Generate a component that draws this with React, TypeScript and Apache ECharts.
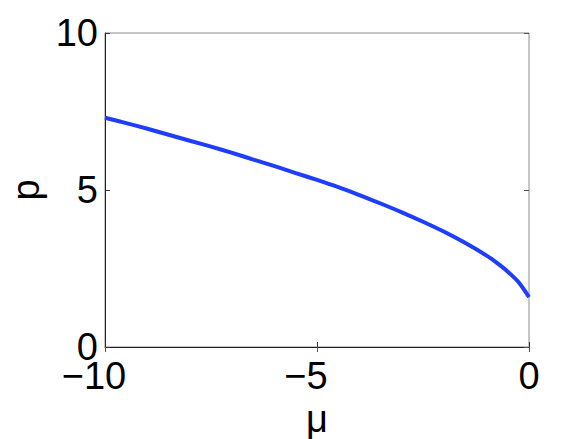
import React, { useEffect, useRef } from "react";
import * as echarts from "echarts";

const mu = [
  -10, -9.5, -9, -8.5, -8, -7.5, -7, -6.5, -6, -5.5, -5, -4.5, -4, -3.5, -3, -2.5, -2, -1.5, -1,
  -0.75, -0.5, -0.25, 0,
];
const p = [
  7.3, 7.13, 6.95, 6.76, 6.57, 6.38, 6.18, 5.97, 5.76, 5.54, 5.32, 5.09, 4.84, 4.57, 4.29, 3.99,
  3.67, 3.31, 2.91, 2.67, 2.4, 2.07, 1.59,
];
const xRange = [-10, 0];
const yRange = [0, 10];
const tickStep = 5;
const xName = "μ";
const yName = "p";

const FONT = "'Liberation Sans', Arial, Helvetica, sans-serif";
const FS = 38;

export default function App() {
  const ref = useRef<HTMLDivElement>(null);
  useEffect(() => {
    if (!ref.current) return;
    const chart = echarts.init(ref.current, null, { renderer: "svg" });
    const txt = { fontFamily: FONT, fontSize: FS, color: "#000" };
    chart.setOption({
      animation: false,
      grid: {
        left: 105,
        top: 33,
        right: 55,
        bottom: 92,
        show: true,
        borderColor: "#8a8a8a",
        borderWidth: 1,
        outerBoundsMode: "none",
      },
      xAxis: [
        {
          type: "value",
          min: xRange[0],
          max: xRange[1],
          interval: tickStep,
          name: xName,
          nameLocation: "middle",
          nameGap: 39,
          nameTextStyle: { ...txt },
          axisLine: { show: true, onZero: false, lineStyle: { color: "#222", width: 1 } },
          axisTick: { show: true, inside: true, length: 5, lineStyle: { color: "#333" } },
          splitLine: { show: false },
          axisLabel: {
            margin: 10,
            ...txt,
            formatter: (v: number) => (v < 0 ? `{n|−${-v}}` : `{d|${v}}`),
            rich: {
              n: { ...txt, padding: [0, 22, 0, 0] },
              d: { ...txt },
            },
          },
        },
        {
          type: "value",
          position: "top",
          min: xRange[0],
          max: xRange[1],
          interval: tickStep,
          axisLine: { show: false },
          axisTick: { show: true, inside: true, length: 5, lineStyle: { color: "#555" } },
          axisLabel: { show: false },
          splitLine: { show: false },
        },
      ],
      yAxis: [
        {
          type: "value",
          min: yRange[0],
          max: yRange[1],
          interval: tickStep,
          name: yName,
          nameLocation: "middle",
          nameGap: 58,
          nameRotate: 90,
          nameTextStyle: { ...txt },
          axisLine: { show: true, onZero: false, lineStyle: { color: "#222", width: 1 } },
          axisTick: { show: true, inside: true, length: 5, lineStyle: { color: "#333" } },
          splitLine: { show: false },
          axisLabel: { margin: 7, ...txt },
        },
        {
          type: "value",
          position: "right",
          min: yRange[0],
          max: yRange[1],
          interval: tickStep,
          axisLine: { show: false },
          axisTick: { show: true, inside: true, length: 5, lineStyle: { color: "#555" } },
          axisLabel: { show: false },
          splitLine: { show: false },
        },
      ],
      series: [
        {
          type: "line",
          xAxisIndex: 0,
          yAxisIndex: 0,
          data: mu.map((m, i) => [m, p[i]]),
          showSymbol: false,
          smooth: 0.3,
          lineStyle: { color: "#1f3dff", width: 4 },
        },
      ],
    });
    return () => chart.dispose();
  }, []);
  return (
    <div
      ref={ref}
      style={{ position: "absolute", left: 0, top: 0, width: 584, height: 439, background: "#fff" }}
    />
  );
}
